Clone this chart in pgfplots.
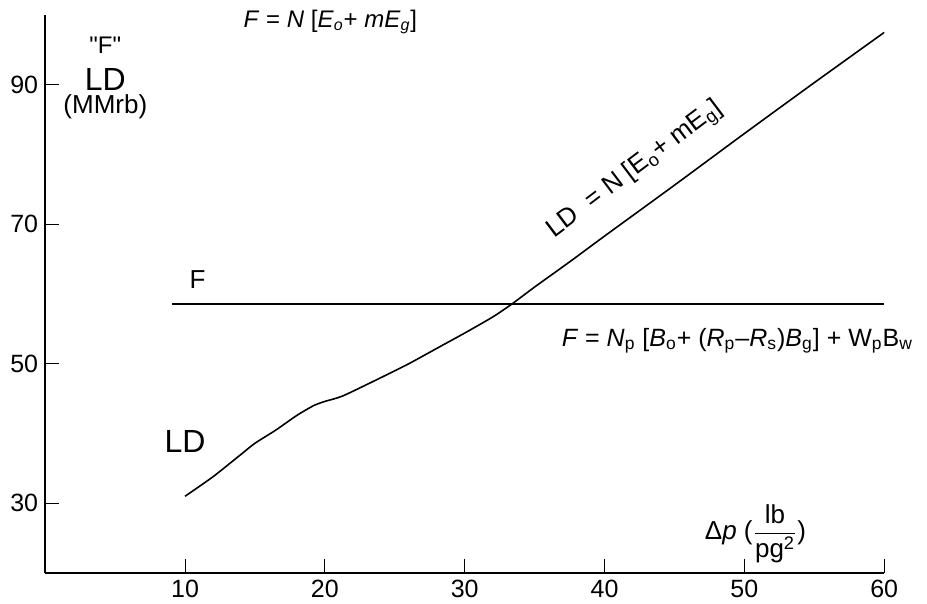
\documentclass[border=0pt]{standalone}
\usepackage{fontspec}
\setmainfont{Liberation Sans}
\usepackage{pgfplots}
\pgfplotsset{compat=1.18}
\begin{document}
\begin{tikzpicture}
\path[use as bounding box] (0,0) rectangle (463.5pt,302pt);
\begin{axis}[
  at={(22.6pt,15.5pt)}, anchor=south west,
  scale only axis, width=419.5pt, height=279pt,
  xmin=0, xmax=60, ymin=20, ymax=100,
  axis lines=left, axis line style={-, line width=1.2pt},
  xtick={10,20,...,60}, ytick={30,50,70,90},
  tick style={black, line width=0.5pt},
  major tick length=7pt,
  tick align=inside,
  ticklabel style={font=\fontsize{12.5}{14}\selectfont},
  /pgf/number format/assume math mode=true,
  clip=false,
]
\addplot[black, line width=1.1pt] coordinates {(9.1,58.6) (60,58.6)};
\addplot[black, line width=0.8pt, smooth, tension=0.4] coordinates {
(10,31.0) (12,33.8) (14,37.0) (15,38.6) (16.5,40.5) (18,42.6) (19.2,44.0)
(20,44.6) (21.3,45.4) (24,48.0) (26,50.0) (28,52.2) (30,54.4) (32,56.7)
(33.4,58.6) (35,61.0) (37.5,64.6) (40,68.3) (45,75.6) (50,83.0) (55,90.3) (60,97.5)};
\node at (axis cs:4.3,95.6) {\fontsize{12}{14}\selectfont \textquotedbl F\textquotedbl};
\node at (axis cs:4.3,90.7) {\fontsize{16}{18}\selectfont LD};
\node at (axis cs:4.3,86.9) {\fontsize{13}{15}\selectfont (MMrb)};
\node at (axis cs:20.4,99) {\fontsize{12}{14}\selectfont \textit{F} = \textit{N} [\textit{E}\textsubscript{\textit{o}}+ \textit{mE}\textsubscript{\textit{g}}]};
\node[rotate=37] at (axis cs:42.2,77.8) {\fontsize{13}{15}\selectfont LD\ \ = N [E\textsubscript{o}+ mE\textsubscript{g}]};
\node at (axis cs:10.9,62.0) {\fontsize{13}{15}\selectfont F};
\node at (axis cs:10.0,38.9) {\fontsize{16}{18}\selectfont LD};
\node at (axis cs:49.5,53.3) {\fontsize{12.5}{14}\selectfont \textit{F} = \textit{N}\textsubscript{p} [\textit{B}\textsubscript{o}+ (\textit{R}\textsubscript{p}--\textit{R}\textsubscript{s})\textit{B}\textsubscript{g}] + W\textsubscript{p}B\textsubscript{w}};
\node at (axis cs:50.8,25.6) {\fontsize{13}{15}\selectfont Δ\textit{p} ($\displaystyle\frac{\mbox{lb}}{\mbox{pg\textsuperscript{2}}}$)};
\end{axis}
\end{tikzpicture}
\end{document}
